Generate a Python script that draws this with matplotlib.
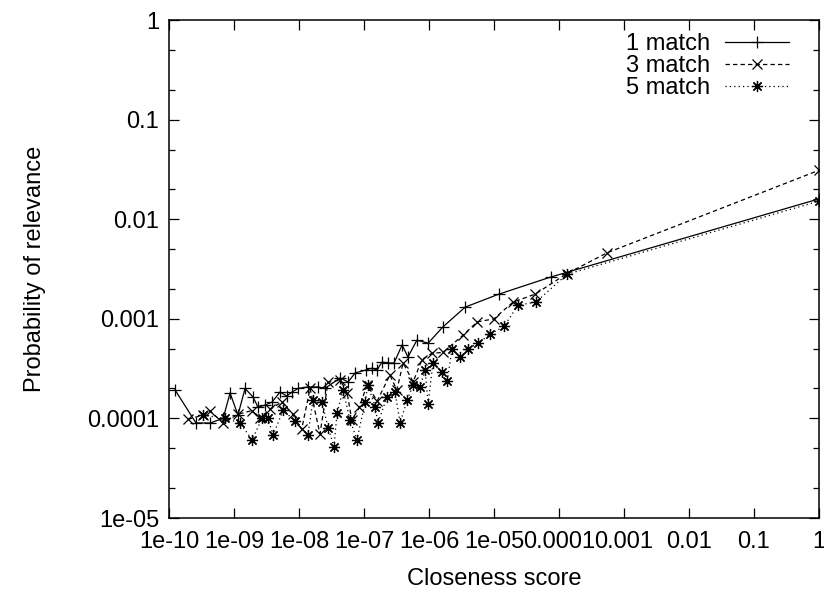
import matplotlib
matplotlib.use("Agg")
import matplotlib.pyplot as plt
from matplotlib.ticker import FixedLocator, FuncFormatter, NullFormatter

plt.rcParams['font.family'] = ['Liberation Sans', 'DejaVu Sans']

# 1 match
x1 = [1.24e-10, 2.6e-10, 4.3e-10, 6.8e-10, 8.7e-10, 1.15e-9, 1.48e-9, 1.96e-9, 2.34e-9,
      3.0e-9, 3.85e-9, 5.1e-9, 6.5e-9, 7.8e-9, 9.7e-9, 1.37e-8, 1.96e-8, 2.5e-8, 4.3e-8,
      5.7e-8, 7.3e-8, 1.07e-7, 1.33e-7, 1.58e-7, 1.89e-7, 2.34e-7, 2.9e-7, 3.85e-7,
      4.75e-7, 6.5e-7, 9.7e-7, 1.64e-6, 3.6e-6, 1.19e-5, 7.5e-5, 1.0]
y1 = [1.93e-4, 9.0e-5, 9.0e-5, 1.0e-4, 1.8e-4, 1.08e-4, 2.0e-4, 1.64e-4, 1.3e-4,
      1.36e-4, 1.46e-4, 1.84e-4, 1.68e-4, 1.84e-4, 2.0e-4, 2.07e-4, 2.07e-4, 2.0e-4, 2.55e-4,
      2.32e-4, 2.86e-4, 3.06e-4, 3.2e-4, 3.06e-4, 3.68e-4, 3.6e-4, 3.6e-4, 5.46e-4,
      4.13e-4, 6.1e-4, 5.7e-4, 8.3e-4, 1.31e-3, 1.77e-3, 2.63e-3, 0.016]

# 3 match
x3 = [1.96e-10, 3.33e-10, 4.28e-10, 6.8e-10, 1.15e-9, 1.9e-9, 2.5e-9, 3.6e-9, 5.5e-9,
      8.0e-9, 1.1e-8, 1.48e-8, 2.1e-8, 2.8e-8, 4.3e-8, 5.5e-8, 6.5e-8, 8.5e-8, 1.11e-7,
      1.6e-7, 2.5e-7, 3.2e-7, 4.0e-7, 5.7e-7, 7.8e-7, 1.1e-6, 1.64e-6, 3.3e-6, 5.5e-6,
      1.0e-5, 1.96e-5, 4.3e-5, 1.33e-4, 5.5e-4, 1.0]
y3 = [9.8e-5, 1.08e-4, 1.19e-4, 9.0e-5, 1.1e-4, 1.2e-4, 1.0e-4, 1.25e-4, 1.46e-4,
      1.1e-4, 7.8e-5, 2.0e-4, 7.0e-5, 2.3e-4, 2.43e-4, 1.8e-4, 9.6e-5, 1.3e-4, 2.16e-4,
      1.5e-4, 2.73e-4, 1.93e-4, 3.6e-4, 2.33e-4, 3.9e-4, 4.5e-4, 4.6e-4, 6.8e-4, 9.3e-4,
      1.0e-3, 1.47e-3, 1.77e-3, 2.85e-3, 4.6e-3, 0.031]

# 5 match
x5 = [3.33e-10, 7.3e-10, 1.24e-9, 1.9e-9, 2.7e-9, 3.33e-9, 4.0e-9, 5.7e-9, 8.7e-9,
      1.37e-8, 1.64e-8, 2.26e-8, 2.8e-8, 3.45e-8, 3.85e-8, 4.75e-8, 6.1e-8, 7.8e-8,
      1.04e-7, 1.15e-7, 1.48e-7, 1.64e-7, 2.26e-7, 3.0e-7, 3.6e-7, 4.6e-7, 5.7e-7,
      7.3e-7, 8.7e-7, 9.7e-7, 1.15e-6, 1.6e-6, 1.9e-6, 2.26e-6, 3.0e-6, 4.0e-6, 5.7e-6,
      8.7e-6, 1.43e-5, 2.34e-5, 4.4e-5, 1.33e-4, 1.0]
y5 = [1.08e-4, 1.0e-4, 9.0e-5, 6.1e-5, 1.0e-4, 1.0e-4, 6.8e-5, 1.21e-4, 9.4e-5,
      6.8e-5, 1.53e-4, 1.46e-4, 8.1e-5, 5.2e-5, 1.13e-4, 1.93e-4, 9.6e-5, 6.1e-5,
      1.46e-4, 2.16e-4, 1.31e-4, 9.0e-5, 1.64e-4, 1.84e-4, 9.0e-5, 1.53e-4, 2.16e-4,
      2.07e-4, 3.06e-4, 1.4e-4, 3.6e-4, 2.9e-4, 2.35e-4, 5.0e-4, 4.1e-4, 5.0e-4, 5.7e-4,
      7.0e-4, 8.4e-4, 1.37e-3, 1.47e-3, 2.8e-3, 0.0152]

x_ticks = [1e-10, 1e-9, 1e-8, 1e-7, 1e-6, 1e-5, 1e-4, 1e-3, 1e-2, 1e-1, 1]
y_ticks = [1e-5, 1e-4, 1e-3, 1e-2, 1e-1, 1]
y_minor = [2e-5, 5e-5, 2e-4, 5e-4, 2e-3, 5e-3, 2e-2, 5e-2, 0.2, 0.5]

fig = plt.figure(figsize=(8.24, 5.90), dpi=100)
ax = fig.add_axes([0.2051, 0.1220, 0.7888, 0.8441])

fs = 17
ax.plot(x1, y1, color='black', lw=0.9, marker='+', ms=8, mew=0.9, label='1 match')
ax.plot(x3, y3, color='black', lw=0.9, ls=(0, (3.5, 2.5)), marker='x', ms=7, mew=0.9,
        label='3 match')
ax.plot(x5, y5, color='black', lw=0.9, ls=(0, (1, 2.5)), marker=(8, 2, 0), ms=8, mew=0.9,
        label='5 match')

ax.set_xscale('log')
ax.set_yscale('log')
ax.set_xlim(1e-10, 1)
ax.set_ylim(1e-5, 1)

ax.xaxis.set_major_locator(FixedLocator(x_ticks))
ax.xaxis.set_minor_locator(FixedLocator([]))
ax.yaxis.set_major_locator(FixedLocator(y_ticks))
ax.yaxis.set_minor_locator(FixedLocator(y_minor))
fmt = FuncFormatter(lambda v, p: '%g' % v)
ax.xaxis.set_major_formatter(fmt)
ax.yaxis.set_major_formatter(fmt)
ax.yaxis.set_minor_formatter(NullFormatter())

ax.tick_params(which='both', direction='in', top=True, right=True, width=0.9,
               labelsize=fs)
ax.tick_params(which='major', length=7)
ax.tick_params(which='minor', length=4)
ax.tick_params(axis='x', pad=9)
ax.tick_params(axis='y', pad=7)
for s in ax.spines.values():
    s.set_linewidth(1.1)

ax.set_xlabel('Closeness score', fontsize=fs)
ax.set_ylabel('Probability of relevance', fontsize=fs)
ax.xaxis.set_label_coords(0.5, -0.1)
ax.yaxis.set_label_coords(-0.19, 0.5)

ax.legend(loc='upper right', bbox_to_anchor=(0.972, 0.998), frameon=False, fontsize=fs,
          markerfirst=False, handlelength=2.7, handletextpad=0.65, labelspacing=0.0,
          borderpad=0, numpoints=1)

fig.savefig('out.png', dpi=100)
